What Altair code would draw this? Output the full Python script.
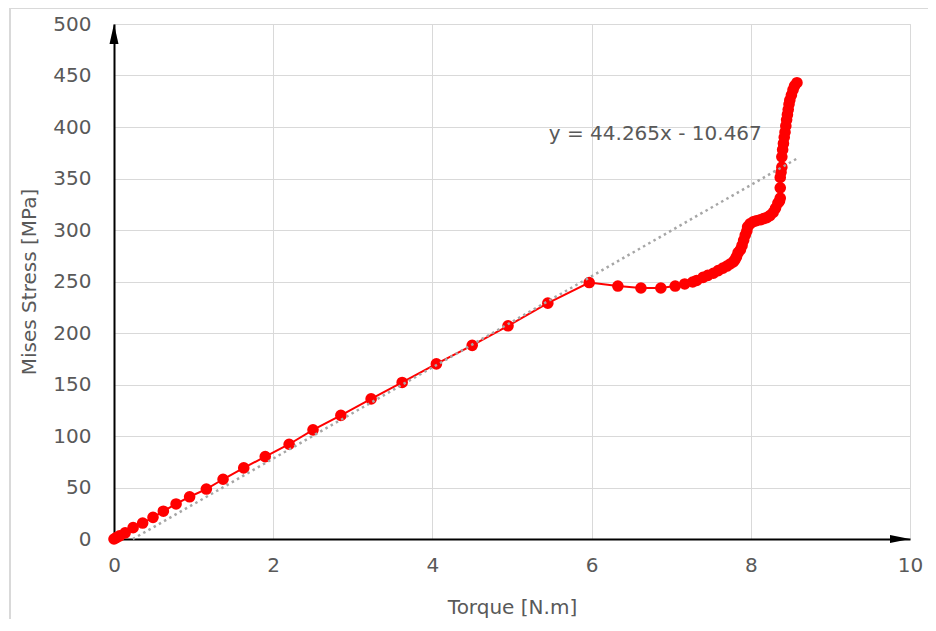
import altair as alt
import pandas as pd

# ---- data ----
torque = [0, 0.03, 0.07, 0.14, 0.24, 0.36, 0.49, 0.62, 0.78, 0.95, 1.16, 1.37, 1.63, 1.9, 2.2, 2.5,
          2.85, 3.23, 3.62, 4.05, 4.5, 4.95, 5.45, 5.97,
          6.33, 6.62, 6.87, 7.05, 7.17, 7.27, 7.32, 7.40, 7.46, 7.53, 7.59, 7.65, 7.70, 7.74, 7.78,
          7.80, 7.82, 7.84, 7.87, 7.89, 7.91, 7.93, 7.95, 7.96, 7.99, 8.03, 8.07, 8.12, 8.16, 8.20,
          8.24, 8.28, 8.31, 8.34, 8.36, 8.37, 8.37, 8.37, 8.38, 8.39, 8.39, 8.40, 8.41, 8.42, 8.43,
          8.44, 8.45, 8.46, 8.47, 8.48, 8.49, 8.51, 8.53, 8.55, 8.58]
stress = [0, 1.3, 3, 6, 11, 15.5, 21, 27, 34, 41, 48.5, 58, 69, 80, 92, 106,
          120, 136, 152, 170, 188, 207, 229, 249,
          245.6, 243.7, 243.7, 245.6, 247.6, 249.5, 251, 254, 256, 258, 260.5, 263, 265, 267, 269,
          271, 274, 278, 281, 285, 290, 295, 299, 303, 306, 308, 309, 310, 311, 312,
          314, 317, 321, 326, 328, 331, 341, 351, 356, 361, 371, 378, 384, 390, 395,
          401, 407, 412, 417, 422, 426, 431, 436, 440, 443]

trend_slope = 44.265
trend_intercept = -10.467
trend_x = [-trend_intercept / trend_slope, 8.58]
trend_label = "y = 44.265x - 10.467"
label_pos = (6.8, 387)

x_ticks = [0, 2, 4, 6, 8, 10]
y_ticks = list(range(0, 501, 50))

FONT = "DejaVu Sans"
GREY = "#595959"

series = pd.DataFrame({"torque": torque, "stress": stress, "i": range(len(torque))})
trend = pd.DataFrame({"torque": trend_x,
                      "stress": [trend_slope * v + trend_intercept for v in trend_x]})
label_df = pd.DataFrame({"torque": [label_pos[0]], "stress": [label_pos[1]], "t": [trend_label]})
arrow_up = pd.DataFrame({"torque": [0], "stress": [500]})
arrow_right = pd.DataFrame({"torque": [10], "stress": [0]})

xs = alt.Scale(domain=[0, 10], nice=False, zero=False)
ys = alt.Scale(domain=[0, 500], nice=False, zero=False)

x_axis = alt.Axis(values=x_ticks, format="d", title="Torque [N.m]", grid=True,
                  gridColor="#d9d9d9", labelFlush=False, labelOverlap=False,
                  gridWidth=1, domainColor="black", domainWidth=2, ticks=False,
                  labelPadding=16, labelFontSize=20, labelFont=FONT, labelColor=GREY,
                  titleFont=FONT, titleFontSize=20, titleColor=GREY, titleFontWeight="normal",
                  titleBaseline="alphabetic", titleY=74)
y_axis = alt.Axis(values=y_ticks, format="d", title="Mises Stress [MPa]", grid=True,
                  gridColor="#d9d9d9", labelFlush=False, labelOverlap=False,
                  gridWidth=1, domainColor="black", domainWidth=2, ticks=False,
                  labelPadding=23, labelFontSize=20, labelFont=FONT, labelColor=GREY,
                  titleFont=FONT, titleFontSize=20, titleColor=GREY, titleFontWeight="normal",
                  titleBaseline="alphabetic", titleAngle=-90, titleX=-79, titleY=257.5,
                  titleAlign="center")

border = alt.Chart(pd.DataFrame({"a": [0]})).mark_rect(
    fill=None, stroke="#d9d9d9", strokeWidth=2
).encode(x=alt.value(-104), x2=alt.value(950), y=alt.value(-16), y2=alt.value(700))

line = alt.Chart(series).mark_line(color="#ff0000", strokeWidth=2).encode(
    x=alt.X("torque:Q", scale=xs, axis=x_axis),
    y=alt.Y("stress:Q", scale=ys, axis=y_axis),
    order="i:Q",
)
points = alt.Chart(series).mark_point(filled=True, color="#ff0000", size=135, opacity=1,
                                      shape="circle").encode(
    x=alt.X("torque:Q", scale=xs), y=alt.Y("stress:Q", scale=ys)
)
trendline = alt.Chart(trend).mark_line(color="#a6a6a6", strokeWidth=2.5,
                                       strokeDash=[2.5, 3.5]).encode(
    x=alt.X("torque:Q", scale=xs), y=alt.Y("stress:Q", scale=ys)
)
label = alt.Chart(label_df).mark_text(font=FONT, fontSize=20, color=GREY, align="center",
                                      baseline="alphabetic").encode(
    x=alt.X("torque:Q", scale=xs), y=alt.Y("stress:Q", scale=ys), text="t:N"
)
up = alt.Chart(arrow_up).mark_point(shape="M0,0L-0.45,2L0.45,2Z", filled=True, color="black",
                                    size=400, opacity=1).encode(
    x=alt.X("torque:Q", scale=xs), y=alt.Y("stress:Q", scale=ys)
)
right = alt.Chart(arrow_right).mark_point(shape="M0,0L-2,-0.4L-2,0.4Z", filled=True,
                                          color="black", size=400, opacity=1).encode(
    x=alt.X("torque:Q", scale=xs), y=alt.Y("stress:Q", scale=ys)
)

chart = alt.layer(border, line, points, trendline, label, up, right).properties(
    width=796, height=515,
    autosize=alt.AutoSizeParams(type="none"),
    padding={"left": 106, "top": 16, "right": 18, "bottom": 80},
).configure_view(strokeWidth=0).configure(background="white")

chart.save("out.html", embed_options={"renderer": "svg", "actions": False})
